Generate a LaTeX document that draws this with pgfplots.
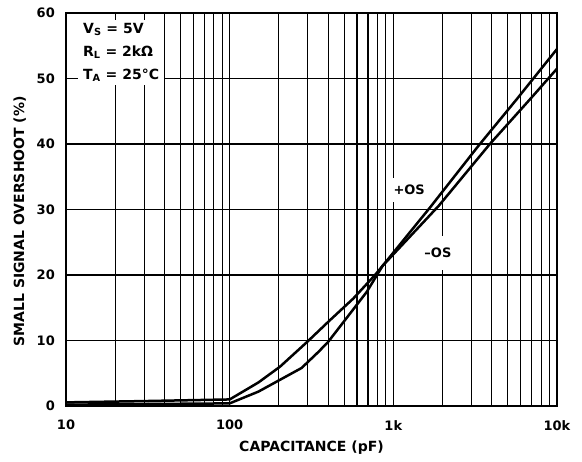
\documentclass[border=0pt]{standalone}
\usepackage{pgfplots}
\pgfplotsset{compat=1.18}
\usepackage{fontspec}
\setmainfont{DejaVu Sans}

\begin{document}
\begin{tikzpicture}
\path[use as bounding box] (-66pt,-56pt) rectangle (516pt,406pt);
\begin{axis}[
    xmode=log,
    scale only axis,
    width=491pt, height=393pt,
    xmin=10, xmax=10000,
    ymin=0, ymax=60,
    xtick={10,100,1000,10000},
    xticklabels={10,100,1k,10k},
    minor xtick={20,30,40,50,60,70,80,90,200,300,400,500,600,700,800,900,2000,3000,4000,5000,6000,7000,8000,9000},
    ytick={0,10,20,30,40,50,60},
    grid=both,
    major grid style={black, line width=1.1pt},
    minor grid style={black, line width=1.1pt},
    major tick length=0pt, minor tick length=0pt,
    axis line style={line width=1.8pt},
    /pgf/number format/assume math mode=true,
    tick label style={font=\bfseries\fontsize{13}{13}\selectfont},
    xticklabel style={anchor=north, inner sep=0pt, yshift=-14pt},
    yticklabel style={anchor=east, inner sep=0pt, xshift=-11pt},
    xlabel={CAPACITANCE (pF)},
    ylabel={SMALL SIGNAL OVERSHOOT (\%)},
    label style={font=\bfseries\fontsize{14}{14}\selectfont},
    xlabel style={at={(axis description cs:0.5,0)}, anchor=north, inner sep=0pt, yshift=-35pt},
    ylabel style={at={(axis description cs:-0.094,0.47)}, anchor=center, inner sep=0pt},
]
% +OS
\addplot[black, line width=2.5pt, line join=round] coordinates {
(10,0.2) (30,0.3) (100,0.4) (150,2.2) (203,4.0) (275,5.8) (350,8.3) (400,9.8)
(506,13.1) (687,17.4) (860,21.4) (1675,30.3) (3306,39.7) (5660,46.8) (10000,54.5)
};
% -OS
\addplot[black, line width=2.5pt, line join=round] coordinates {
(10,0.55) (30,0.75) (100,1.0) (150,3.6) (203,6.0) (298,9.8) (410,13.1)
(569,16.4) (773,20.0) (860,21.4) (1900,30.6) (3890,40) (6825,46.8) (10000,51.5)
};
\node[fill=white, align=left, anchor=north west, inner xsep=5pt, inner ysep=3pt,
      font=\bfseries\fontsize{14}{23}\selectfont]
  at (rel axis cs:0.0244,0.982)
  {V\textsubscript{S} = 5V\\R\textsubscript{L} = 2kΩ\\T\textsubscript{A} = 25°C};
\node[fill=white, anchor=west, inner xsep=2pt, inner ysep=7pt, xshift=-2pt,
      font=\bfseries\fontsize{13}{13}\selectfont] at (axis cs:1000,33) {+OS};
\node[fill=white, inner xsep=2pt, inner ysep=12pt,
      font=\bfseries\fontsize{13}{13}\selectfont] at (axis cs:1873,23.4) {--OS};
\end{axis}
\end{tikzpicture}
\end{document}
